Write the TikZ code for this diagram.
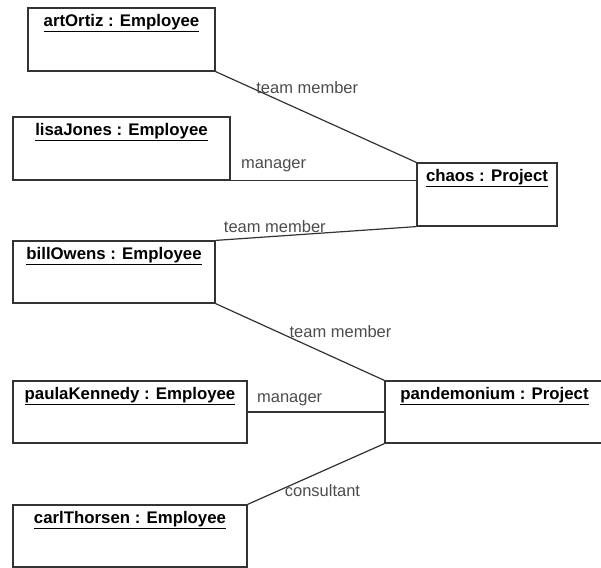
\documentclass[tikz,border=0pt]{standalone}
\usepackage{fontspec}
\setmainfont{Liberation Sans}

\begin{document}
\begin{tikzpicture}[
        x=1pt, y=-1pt,
        object/.style={
            draw=black!80,
            line width=1.2pt,
            minimum height=62pt,
            inner sep=0pt
        },
        objtitle/.style={
            anchor=base,
            inner sep=0pt,
            font=\fontsize{16.8}{18}\selectfont\bfseries
        },
        link/.style={
            draw=black!80,
            line width=1.2pt
        },
        linklabel/.style={
            font=\fontsize{16.5}{18}\selectfont,
            text=black!70,
            inner sep=0pt
        }
    ]

        \useasboundingbox (0,0) rectangle (601,567);
        \clip (0,0) rectangle (601,567);

        % ---------------------------------------------------------------------
        % Employee objects
        % ---------------------------------------------------------------------

        \node[object, minimum width=187pt, minimum height=63pt] (artOrtiz) at (121.5,39.5) {};
        \node[objtitle] (artOrtizName) at ([yshift=-19pt]artOrtiz.north) {\underline{artOrtiz : Employee}};

        \node[object, minimum width=217pt, minimum height=63pt] (lisaJones) at (121.5,148.5) {};
        \node[objtitle] (lisaJonesName) at ([yshift=-19pt]lisaJones.north) {\underline{lisaJones : Employee}};

        \node[object, minimum width=202pt] (billOwens) at (114,272) {};
        \node[objtitle] (billOwensName) at ([yshift=-19pt]billOwens.north) {\underline{billOwens : Employee}};

        \node[object, minimum width=234pt] (paulaKennedy) at (130,412) {};
        \node[objtitle] (paulaKennedyName) at ([yshift=-19pt]paulaKennedy.north) {\underline{paulaKennedy : Employee}};

        \node[object, minimum width=234pt] (carlThorsen) at (130,536) {};
        \node[objtitle] (carlThorsenName) at ([yshift=-19pt]carlThorsen.north) {\underline{carlThorsen : Employee}};

        % ---------------------------------------------------------------------
        % Project objects
        % ---------------------------------------------------------------------

        \node[object, minimum width=140pt, minimum height=63pt] (chaos) at (487,194.5) {};
        \node[objtitle] (chaosName) at ([yshift=-19pt]chaos.north) {\underline{chaos : Project}};

        \node[object, minimum width=219pt] (pandemonium) at (494.5,412) {};
        \node[objtitle] (pandemoniumName) at ([yshift=-19pt]pandemonium.north) {\underline{pandemonium : Project}};

        % ---------------------------------------------------------------------
        % Links
        % ---------------------------------------------------------------------

        \draw[link] (artOrtiz.south east)
            -- node[linklabel, pos=0.2, anchor=west, yshift=2pt] (artOrtizRole) {team member}
            (chaos.north west);

        \draw[link] (lisaJones.south east)
            -- node[linklabel, pos=0.053, anchor=base west, yshift=12pt] (lisaJonesRole) {manager}
            (lisaJones.south east -| chaos.west);

        \draw[link] (chaos.south west)
            -- node[linklabel, pos=0.705, anchor=base, yshift=3.6pt] (billOwensRole) {team member}
            (billOwens.north east);

        \draw[link] (billOwens.south east)
            -- node[linklabel, pos=0.435, anchor=base west] (billOwensRole2) {team member}
            (pandemonium.north west);

        \draw[link] (paulaKennedy.east)
            -- node[linklabel, pos=0.065, anchor=base west, yshift=10pt] (paulaKennedyRole) {manager}
            (pandemonium.west);

        \draw[link] (pandemonium.south west)
            -- node[linklabel, pos=0.732, anchor=base west, yshift=-8.6pt] (carlThorsenRole) {consultant}
            (carlThorsen.north east);

    \end{tikzpicture}
\end{document}
